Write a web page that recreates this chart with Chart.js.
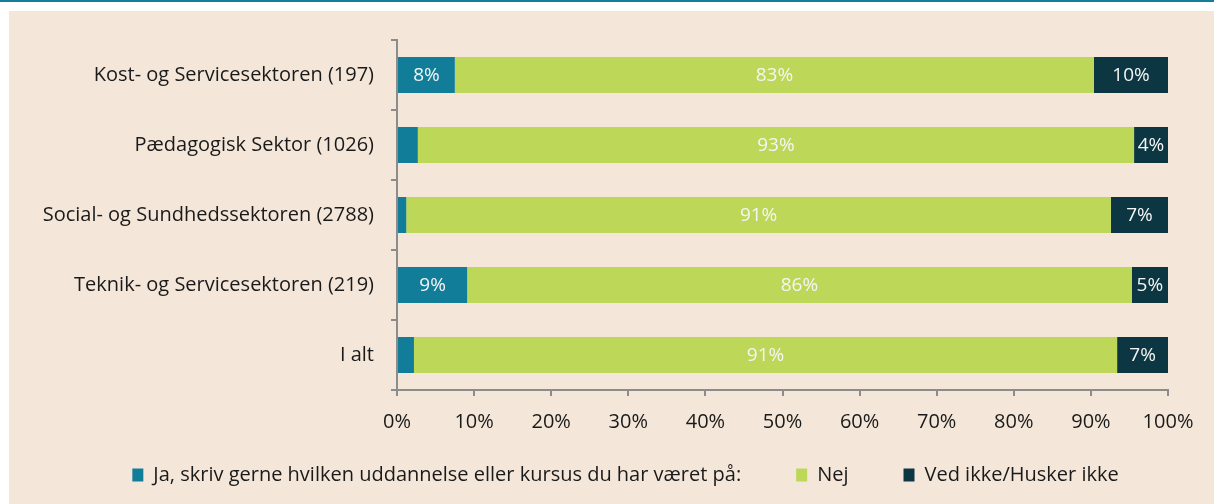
<!DOCTYPE html>
<html>
<head>
<meta charset="utf-8">
<script src="https://cdn.jsdelivr.net/npm/chart.js@4"></script>
<style>
    body { margin: 0; background: #ffffff; overflow: hidden; }
    .topline { position: absolute; left: 0; top: 0; width: 1214px; height: 2px; background: #137e98; }
    .panel { position: absolute; left: 9px; top: 11px; width: 1205px; height: 493px; background: #f4e7da; }
</style>
</head>
<body>
<div class="topline"></div>
<div class="panel"><canvas id="chart"></canvas></div>
<script>
const categories = [
    'Kost- og Servicesektoren (197)',
    'Pædagogisk Sektor (1026)',
    'Social- og Sundhedssektoren (2788)',
    'Teknik- og Servicesektoren (219)',
    'I alt'
];
const seriesNames = [
    'Ja, skriv gerne hvilken uddannelse eller kursus du har været på:',
    'Nej',
    'Ved ikke/Husker ikke'
];
const jaValues = [7.5, 2.7, 1.2, 9.1, 2.2];
const nejValues = [82.9, 92.9, 91.4, 86.2, 91.2];
const vedIkkeValues = [9.6, 4.4, 7.4, 4.7, 6.6];
const xMin = 0;
const xMax = 100;
const xStep = 10;

const FONT = 'Open Sans';
const FONT_SIZE = 20;
const axisGray = '#8c8c8c';

// labels inside the segments, only when there is room for them
const segmentLabels = {
    id: 'segmentLabels',
    afterDatasetsDraw(chart) {
        const ctx = chart.ctx;
        ctx.save();
        ctx.font = `19px "${FONT}"`;
        ctx.fillStyle = '#f5f5f5';
        ctx.textAlign = 'center';
        ctx.textBaseline = 'middle';
        chart.data.datasets.forEach((ds, i) => {
            const meta = chart.getDatasetMeta(i);
            meta.data.forEach((bar, j) => {
                const v = ds.data[j];
                if (v < 4) return;
                const cx = (bar.x + bar.base) / 2;
                ctx.fillText(Math.round(v) + '%', cx, bar.y + 1);
            });
        });
        ctx.restore();
    }
};

// the x axis box is kept short so the legend sits close; let its labels
// show below it and nudge the legend a bit to the right
const layoutTweaks = {
    id: 'layoutTweaks',
    afterLayout(chart) {
        const x = chart.scales.x;
        x.bottom = x.top + 60;
        x.height = 60;
        chart.legend.left += 37;
        chart.legend.right += 37;
        chart.legend.top += 2;
        chart.legend.bottom += 2;
    }
};

new Chart(document.getElementById('chart'), {
    type: 'bar',
    data: {
        labels: categories,
        datasets: [
            { label: seriesNames[0], data: jaValues, backgroundColor: '#127d98' },
            { label: seriesNames[1], data: nejValues, backgroundColor: '#bdd759' },
            { label: seriesNames[2], data: vedIkkeValues, backgroundColor: '#0b3642' }
        ]
    },
    options: {
        indexAxis: 'y',
        responsive: true,
        maintainAspectRatio: false,
        animation: false,
        datasets: {
            bar: { barPercentage: 0.514, categoryPercentage: 1.0 }
        },
        layout: {
            padding: { top: 29, right: 46, bottom: 11, left: 0 }
        },
        plugins: {
            legend: {
                position: 'bottom',
                labels: {
                    color: '#1a1a1a',
                    font: { family: FONT, size: FONT_SIZE },
                    boxWidth: 11,
                    boxHeight: 13,
                    padding: 55
                }
            },
            tooltip: { enabled: false }
        },
        scales: {
            x: {
                stacked: true,
                min: xMin,
                max: xMax,
                afterFit: (scale) => { scale.height = 18; },
                border: { color: axisGray, width: 2 },
                grid: { drawOnChartArea: false, color: axisGray, lineWidth: 2, tickLength: 6 },
                ticks: {
                    stepSize: xStep,
                    color: '#1a1a1a',
                    font: { family: FONT, size: FONT_SIZE },
                    padding: 14,
                    callback: (v) => v + '%'
                }
            },
            y: {
                stacked: true,
                afterFit: (scale) => { scale.width = 388; },
                border: { color: axisGray, width: 2 },
                grid: { drawOnChartArea: false, color: axisGray, lineWidth: 2, tickLength: 6, offset: true },
                ticks: {
                    color: '#1a1a1a',
                    font: { family: FONT, size: FONT_SIZE },
                    padding: 17
                }
            }
        }
    },
    plugins: [segmentLabels, layoutTweaks]
});
</script>
</body>
</html>
